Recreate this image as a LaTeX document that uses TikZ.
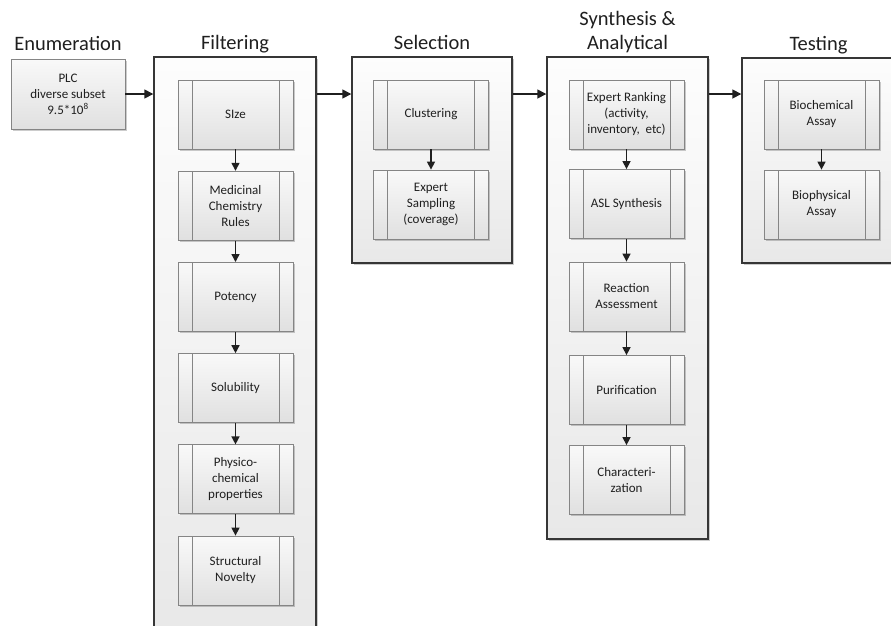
\documentclass[tikz,border=0pt]{standalone}
\usepackage{fontspec}
\setmainfont{Carlito}
\usetikzlibrary{arrows.meta,positioning,shadows,calc}

\begin{document}
\begin{tikzpicture}[x=1pt,y=-1pt]

	% ============================================================
	% COLORS
	% ============================================================
	\definecolor{ink}{HTML}{1F1F1F}
	\definecolor{frame}{HTML}{363636}
	\definecolor{stepLine}{HTML}{858585}
	\definecolor{stepTop}{HTML}{F9F9F9}
	\definecolor{stepBottom}{HTML}{E0E0E0}
	\definecolor{panelTop}{HTML}{FDFDFD}
	\definecolor{panelBottom}{HTML}{E8E8E8}

	% ============================================================
	% STYLES
	% ============================================================
	\tikzset{
		panel/.style={
			draw=frame,
			line width=1.4pt,
			top color=panelTop,
			bottom color=panelBottom,
			inner sep=0pt,
			drop shadow={shadow xshift=2pt,shadow yshift=-2pt,opacity=0.2,fill=black}
		},
		stepbox/.style={
			draw=stepLine,
			line width=0.8pt,
			top color=stepTop,
			bottom color=stepBottom,
			minimum width=115pt,
			minimum height=69pt,
			inner sep=0pt,
			align=center,
			font=\fontsize{13}{16}\selectfont,
			text=ink,
			drop shadow={shadow xshift=1.5pt,shadow yshift=-1.5pt,opacity=0.2,fill=black},
			path picture={
				\draw[stepLine,line width=0.8pt]
					([xshift=14pt]path picture bounding box.north west) -- ([xshift=14pt]path picture bounding box.south west)
					([xshift=-14pt]path picture bounding box.north east) -- ([xshift=-14pt]path picture bounding box.south east);
			}
		},
		startBox/.style={
			draw=stepLine,
			line width=0.8pt,
			top color=stepTop,
			bottom color=stepBottom,
			minimum width=114pt,
			minimum height=70pt,
			inner sep=0pt,
			align=center,
			font=\fontsize{13}{16}\selectfont,
			text=ink,
			drop shadow={shadow xshift=1.5pt,shadow yshift=-1.5pt,opacity=0.2,fill=black}
		},
		ttl/.style={font=\fontsize{20.5}{24}\selectfont,text=ink,inner sep=0pt,align=center},
		arr/.style={-{Triangle[length=9pt,width=9pt]},line width=1.6pt,draw=ink},
		flow/.style={-{Triangle[length=8pt,width=8pt]},line width=1.4pt,draw=ink}
	}

	\useasboundingbox (0,0) rectangle (891,625);

	% ============================================================
	% PANELS
	% ============================================================
	\node[startBox] (enum) at (68,94) {PLC\\diverse subset\\9.5*10\textsuperscript{8}};
	\node[panel,minimum width=162pt,minimum height=583pt] (filt)  at (235,348.5) {};
	\node[panel,minimum width=160pt,minimum height=206pt] (sel)   at (432,160) {};
	\node[panel,minimum width=161pt,minimum height=482pt] (synth) at (627.5,298) {};
	\node[panel,minimum width=161pt,minimum height=205pt] (test)  at (822.5,160.5) {};

	% ============================================================
	% PANEL TITLES
	% ============================================================
	\node[ttl,anchor=base] at ([yshift=8pt]enum.north) {Enumeration};
	\node[ttl,anchor=base] at ([yshift=7pt]filt.north) {Filtering};
	\node[ttl,anchor=base] at ([yshift=7pt]sel.north)  {Selection};
	\node[ttl,anchor=south] at ([yshift=3pt]synth.north) {Synthesis \&\\Analytical};
	\node[ttl,anchor=base] at ([yshift=7pt,xshift=-4pt]test.north) {Testing};

	% ============================================================
	% FILTERING STEPS
	% ============================================================
	\node[stepbox] (size)     at (235.5,114.5) {SIze};
	\node[stepbox] (medchem)  at (235.5,205.7) {Medicinal\\Chemistry\\Rules};
	\node[stepbox] (potency)  at (235.5,296.9) {Potency};
	\node[stepbox] (solub)    at (235.5,388.1) {Solubility};
	\node[stepbox] (physchem) at (235.5,479.3) {Physico-\\chemical\\properties};
	\node[stepbox] (novelty)  at (235.5,570.5) {Structural\\Novelty};

	% ============================================================
	% SELECTION STEPS
	% ============================================================
	\node[stepbox] (cluster)  at (431,114.5) {Clustering};
	\node[stepbox] (sampling) at (431,204.5) {Expert\\Sampling\\(coverage)};

	% ============================================================
	% SYNTHESIS STEPS
	% ============================================================
	\node[stepbox] (ranking)  at (626.5,114.5) {Expert Ranking\\(activity,\\inventory,\ \ etc)};
	\node[stepbox] (asl)      at (626.5,204)   {ASL Synthesis};
	\node[stepbox] (reaction) at (626.5,296.5) {Reaction\\Assessment};
	\node[stepbox] (purif)    at (626.5,390)   {Purification};
	\node[stepbox] (charact)  at (626.5,480)   {Characteri-\\zation};

	% ============================================================
	% TESTING STEPS
	% ============================================================
	\node[stepbox] (biochem)  at (821.5,114.5) {Biochemical\\Assay};
	\node[stepbox] (biophys)  at (821.5,204.5) {Biophysical\\Assay};

	% ============================================================
	% ARROWS - BETWEEN PANELS
	% ============================================================
	\draw[arr] (enum.east) -- (enum.east -| filt.west);
	\draw[arr] (filt.east |- enum.east) -- (sel.west |- enum.east);
	\draw[arr] (sel.east |- enum.east) -- (synth.west |- enum.east);
	\draw[arr] (synth.east |- enum.east) -- (test.west |- enum.east);

	% ============================================================
	% ARROWS - INSIDE PANELS
	% ============================================================
	\draw[flow] (size.south) -- (medchem.north);
	\draw[flow] (medchem.south) -- (potency.north);
	\draw[flow] (potency.south) -- (solub.north);
	\draw[flow] (solub.south) -- (physchem.north);
	\draw[flow] (physchem.south) -- (novelty.north);

	\draw[flow] (cluster.south) -- (sampling.north);

	\draw[flow] (ranking.south) -- (asl.north);
	\draw[flow] (asl.south) -- (reaction.north);
	\draw[flow] (reaction.south) -- (purif.north);
	\draw[flow] (purif.south) -- (charact.north);

	\draw[flow] (biochem.south) -- (biophys.north);

\end{tikzpicture}
\end{document}
